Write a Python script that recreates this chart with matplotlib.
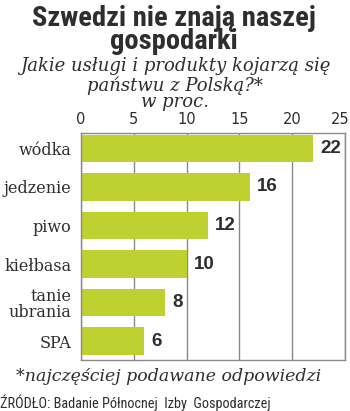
import matplotlib.pyplot as plt
from matplotlib import font_manager
import matplotlib.transforms as mtransforms

categories = ["wódka", "jedzenie", "piwo", "kiełbasa", "tanie\nubrania", "SPA"]
values = [22, 16, 12, 10, 8, 6]
x_ticks = [0, 5, 10, 15, 20, 25]

title = "Szwedzi nie znają naszej\ngospodarki"
subtitle = "Jakie usługi i produkty kojarzą się\npaństwu z Polską?*"
unit = "w proc."
footnote = "*najczęściej podawane odpowiedzi"
source = "ŹRÓDŁO: Badanie Północnej  Izby  Gospodarczej"

GREEN = '#bed130'
DARK = '#2e2e2e'
GRID = '#8a8a8a'

# narrow sans for headline and source line
names = {f.name for f in font_manager.fontManager.ttflist}
if 'Roboto Condensed' in names:
    narrow, head_size, src_size = 'Roboto Condensed', 20.5, 10.3
else:
    narrow, head_size, src_size = 'DejaVu Sans', 15.5, 8

fig = plt.figure(figsize=(3.5, 4.11), dpi=100)
ax = fig.add_axes([81 / 350, 1 - 360 / 411, 264 / 350, 227 / 411])

ypos = list(range(len(categories)))
ax.barh(ypos, values, height=0.72, color=GREEN, zorder=2)
for y, v in zip(ypos, values):
    ax.annotate(str(v), (v, y), xytext=(5, 0), textcoords='offset points',
                va='center', ha='left', fontsize=13.5, fontweight='bold',
                color=DARK, family='Liberation Sans')

ax.set_xlim(0, 25)
ax.set_ylim(5.49, -0.40)
ax.set_xticks(x_ticks)
ax.set_yticks(ypos)
ax.set_yticklabels(categories, family='DejaVu Serif', fontsize=11.5, color=DARK,
                   linespacing=0.95)
ax.xaxis.tick_top()
ax.tick_params(axis='x', length=0, pad=4, labelsize=10.5, labelcolor=DARK)
ax.tick_params(axis='y', length=0, pad=7)
for lab in ax.get_xticklabels():
    lab.set_family('DejaVu Sans')
last = ax.get_xticklabels()[-1]
last.set_transform(last.get_transform() +
                   mtransforms.ScaledTranslation(-5 / 100, 0, fig.dpi_scale_trans))
ax.grid(axis='x', color=GRID, linewidth=1, zorder=1)
for s in ax.spines.values():
    s.set_color(GRID)
    s.set_linewidth(1)

fig.text(0.497, 1 - 30 / 411, title, ha='center', va='center', fontsize=head_size,
         fontweight='bold', color=DARK, family=narrow, linespacing=0.82)
fig.text(0.5, 1 - 76 / 411, subtitle, ha='center', va='center', fontsize=13,
         style='italic', color=DARK, family='DejaVu Serif', linespacing=1.05)
fig.text(0.5, 1 - 102 / 411, unit, ha='center', va='center', fontsize=13,
         style='italic', color=DARK, family='DejaVu Serif')
fig.text(0.483, 1 - 376 / 411, footnote, ha='center', va='center', fontsize=12.5,
         style='italic', color=DARK, family='DejaVu Serif')
fig.text(0.0, 1 - 403 / 411, source, ha='left', va='center', fontsize=src_size,
         color=DARK, family=narrow)

fig.savefig('out.png', dpi=100, facecolor='white')
